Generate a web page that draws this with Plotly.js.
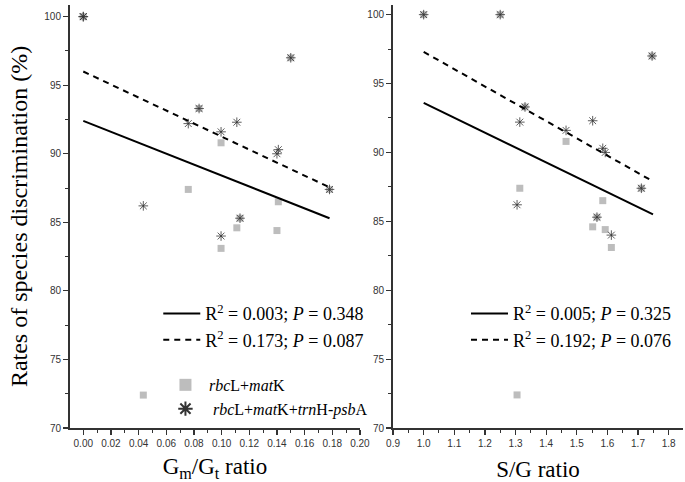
<!DOCTYPE html>
<html>
<head>
<meta charset="utf-8">
<script src="https://cdn.plot.ly/plotly-3.0.1.min.js"></script>
<style>html,body{margin:0;padding:0;background:#fff;}#chart{width:685px;height:482px;}</style>
</head>
<body>
<div id="chart"></div>
<script>
// Per-species values
const gmgtRatio = [0, 0, 0.0434, 0.0759, 0.0837, 0.0996, 0.0996, 0.111, 0.1133, 0.141, 0.140, 0.150, 0.178];
const sgRatio   = [1.0, 1.25, 1.305, 1.314, 1.331, 1.465, 1.613, 1.552, 1.566, 1.585, 1.593, 1.746, 1.711];
const rateRbcMat      = [100, 100, 72.4, 87.4, 93.3, 90.8, 83.1, 84.6, 85.3, 86.5, 84.4, 97.0, 87.4];
const rateRbcMatTrn   = [100, 100, 86.2, 92.2, 93.3, 91.6, 84.0, 92.3, 85.3, 90.3, 90.0, 97.0, 87.4];

// Fitted regression lines (end points)
const fitGmX = [0, 0.178];
const fitGmRbcMat = [92.4, 85.3];
const fitGmRbcMatTrn = [96.0, 87.55];
const fitSgX = [1.0, 1.749];
const fitSgRbcMat = [93.6, 85.5];
const fitSgRbcMatTrn = [97.3, 87.9];

const nameSq = '<i>rbc</i>L+<i>mat</i>K';
const nameStar = ' <i>rbc</i>L+<i>mat</i>K+<i>trn</i>H-<i>psb</i>A';
const legGmSolid = 'R<sup>2</sup> = 0.003; <i>P</i> = 0.348';
const legGmDash  = 'R<sup>2</sup> = 0.173; <i>P</i> = 0.087';
const legSgSolid = 'R<sup>2</sup> = 0.005; <i>P</i> = 0.325';
const legSgDash  = 'R<sup>2</sup> = 0.192; <i>P</i> = 0.076';

const serif = '"Liberation Serif", "Times New Roman", serif';
const sans = '"Liberation Sans", Arial, sans-serif';
const sqColor = '#bdbdbd';
const starColor = '#333';

const sqMarker = {symbol: 'square', size: 7, color: sqColor};
const starMarker = {symbol: 'asterisk-open', size: 8, color: starColor, line: {color: starColor, width: 0.8}};

const traces = [
  {x: gmgtRatio, y: rateRbcMat, mode: 'markers', type: 'scatter', name: nameSq, marker: sqMarker, legend: 'legend2', xaxis: 'x', yaxis: 'y'},
  {x: gmgtRatio, y: rateRbcMatTrn, mode: 'markers', type: 'scatter', name: nameStar, marker: starMarker, legend: 'legend2', xaxis: 'x', yaxis: 'y'},
  {x: fitGmX, y: fitGmRbcMat, mode: 'lines', type: 'scatter', name: legGmSolid, line: {color: '#000', width: 2}, legend: 'legend', xaxis: 'x', yaxis: 'y'},
  {x: fitGmX, y: fitGmRbcMatTrn, mode: 'lines', type: 'scatter', name: legGmDash, line: {color: '#000', width: 2, dash: '6px,5px'}, legend: 'legend', xaxis: 'x', yaxis: 'y'},
  {x: sgRatio, y: rateRbcMat, mode: 'markers', type: 'scatter', name: nameSq, marker: sqMarker, showlegend: false, xaxis: 'x2', yaxis: 'y2'},
  {x: sgRatio, y: rateRbcMatTrn, mode: 'markers', type: 'scatter', name: nameStar, marker: starMarker, showlegend: false, xaxis: 'x2', yaxis: 'y2'},
  {x: fitSgX, y: fitSgRbcMat, mode: 'lines', type: 'scatter', name: legSgSolid, line: {color: '#000', width: 2}, legend: 'legend3', xaxis: 'x2', yaxis: 'y2'},
  {x: fitSgX, y: fitSgRbcMatTrn, mode: 'lines', type: 'scatter', name: legSgDash, line: {color: '#000', width: 2, dash: '6px,5px'}, legend: 'legend3', xaxis: 'x2', yaxis: 'y2'}
];

const axCommon = {
  showgrid: false, zeroline: false, showline: true, linecolor: '#333', linewidth: 2,
  ticks: 'outside', ticklen: 5, tickwidth: 1.2, tickcolor: '#333',
  tickfont: {family: sans, size: 10, color: '#333'},
  minor: {ticks: 'outside', ticklen: 3, tickwidth: 1, tickcolor: '#333'}
};

const legCommon = {
  bgcolor: 'rgba(0,0,0,0)', borderwidth: 0,
  font: {family: serif, size: 18, color: '#000'},
  xanchor: 'left', yanchor: 'top', itemwidth: 37, tracegroupgap: 0
};

const layout = {
  width: 685, height: 482,
  margin: {l: 70, r: 2, t: 5, b: 54},
  paper_bgcolor: '#fff', plot_bgcolor: '#fff',
  xaxis: Object.assign({}, axCommon, {
    domain: [0, 0.473], range: [-0.0096, 0.2], dtick: 0.02, tick0: 0, tickformat: '.2f',
    minor: Object.assign({}, axCommon.minor, {dtick: 0.01}),
    anchor: 'y',
    title: {text: 'G<sub>m</sub>/G<sub>t</sub> ratio', font: {family: serif, size: 23, color: '#000'}, standoff: 14}
  }),
  yaxis: Object.assign({}, axCommon, {
    domain: [0, 1], range: [70, 100.85], dtick: 5, tick0: 70,
    minor: Object.assign({}, axCommon.minor, {dtick: 2.5}),
    anchor: 'x',
    title: {text: 'Rates of species discrimination (%)', font: {family: serif, size: 24, color: '#000'}, standoff: 10}
  }),
  xaxis2: Object.assign({}, axCommon, {
    domain: [0.527, 1], range: [0.9, 1.847], dtick: 0.1, tick0: 0.9, tickformat: '.1f',
    minor: Object.assign({}, axCommon.minor, {dtick: 0.05}),
    anchor: 'y2',
    title: {text: 'S/G ratio', font: {family: serif, size: 23, color: '#000'}, standoff: 14}
  }),
  yaxis2: Object.assign({}, axCommon, {
    domain: [0, 1], range: [70, 100.7], dtick: 5, tick0: 70,
    minor: Object.assign({}, axCommon.minor, {dtick: 2.5}),
    anchor: 'x2'
  }),
  legend: Object.assign({}, legCommon, {x: 0.144, y: 0.314}),
  legend2: Object.assign({}, legCommon, {x: 0.150, y: 0.142, itemsizing: 'constant', font: {family: serif, size: 16, color: '#000'}}),
  legend3: Object.assign({}, legCommon, {x: 0.646, y: 0.314}),
  showlegend: true
};

Plotly.newPlot('chart', traces, layout, {displayModeBar: false, staticPlot: true});
</script>
</body>
</html>
